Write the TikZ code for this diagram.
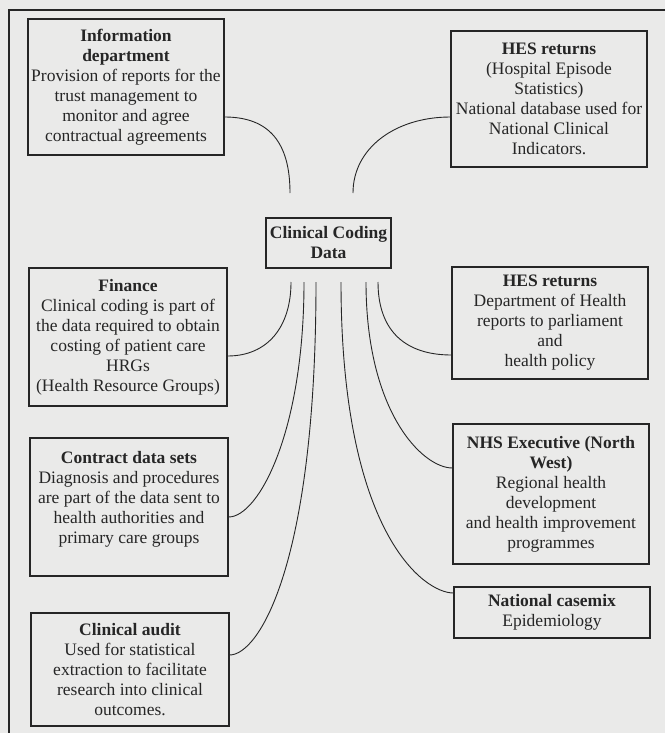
\documentclass[tikz,border=0pt]{standalone}
\usepackage{fontspec}
\setmainfont{Liberation Serif}
\definecolor{bgc}{RGB}{234,234,233}
\definecolor{ink}{RGB}{38,38,38}
\begin{document}
\begin{tikzpicture}[x=1pt,y=-1pt,
  box/.style={draw=ink,line width=1.1pt,text=ink,align=center,inner sep=1pt,
    font=\fontsize{17.5}{20}\selectfont},
  conn/.style={draw=ink,line width=0.9pt}]
\fill[bgc] (0,0) rectangle (665,733);
\useasboundingbox (0,0) rectangle (665,733);
\draw[ink,line width=1.1pt] (9,733) -- (9,10) -- (665,10);

\node[box,minimum width=196pt,minimum height=136pt] (info) at (126,87)
  {\textbf{Information}\\\textbf{department}\\Provision of reports for the\\trust management to\\monitor and agree\\contractual agreements};
\node[box,minimum width=196pt,minimum height=136pt] (hes1) at (549,99)
  {\textbf{HES returns}\\(Hospital Episode\\Statistics)\\National database used for\\National Clinical\\Indicators.};
\node[box,minimum width=125pt,minimum height=50pt] (cc) at (328.5,243)
  {\textbf{Clinical Coding}\\\textbf{Data}};
\node[box,minimum width=198pt,minimum height=138pt] (fin) at (128,337)
  {\textbf{Finance}\\Clinical coding is part of\\the data required to obtain\\costing of patient care\\HRGs\\(Health Resource Groups)};
\node[box,minimum width=198pt,minimum height=138pt] (con) at (129,507)
  {\textbf{Contract data sets}\\Diagnosis and procedures\\are part of the data sent to\\health authorities and\\primary care groups\\\mbox{}};
\node[box,minimum width=198pt,minimum height=113pt] (aud) at (130,669.5)
  {\textbf{Clinical audit}\\Used for statistical\\extraction to facilitate\\research into clinical\\outcomes.};
\node[box,minimum width=196pt,minimum height=112pt] (hes2) at (550,323)
  {\textbf{HES returns}\\Department of Health\\reports to parliament\\and\\health policy};
\node[box,minimum width=196pt,minimum height=140pt] (nhs) at (551,494)
  {\textbf{NHS Executive (North}\\\textbf{West)}\\Regional health\\development\\and health improvement\\programmes};
\node[box,minimum width=196pt,minimum height=51pt] (cmx) at (552,612.5)
  {\textbf{National casemix}\\Epidemiology};

\coordinate (t1) at (290,193);
\coordinate (t2) at (353,193);
\coordinate (b1) at (291,282);
\coordinate (b2) at (304,282);
\coordinate (b3) at (316,282);
\coordinate (b4) at (341,282);
\coordinate (b5) at (366,282);
\coordinate (b6) at (378,282);

\draw[conn] (info.east |- 0,117) .. controls +(45,0) and +(0,-50) .. (t1);
\draw[conn] (hes1.west |- 0,117) .. controls +(-55,0) and +(0,-45) .. (t2);
\draw[conn] (fin.east |- 0,356) .. controls +(40,0) and +(0,45) .. (b1);
\draw[conn] (con.east |- 0,517) .. controls +(30,0) and +(0,150) .. (b2);
\draw[conn] (aud.east |- 0,655) .. controls +(30,0) and +(0,280) .. (b3);
\draw[conn] (cmx.west |- 0,593) .. controls +(-30,0) and +(0,250) .. (b4);
\draw[conn] (nhs.west |- 0,468) .. controls +(-30,0) and +(0,130) .. (b5);
\draw[conn] (hes2.west |- 0,355) .. controls +(-45,0) and +(0,50) .. (b6);
\end{tikzpicture}
\end{document}
